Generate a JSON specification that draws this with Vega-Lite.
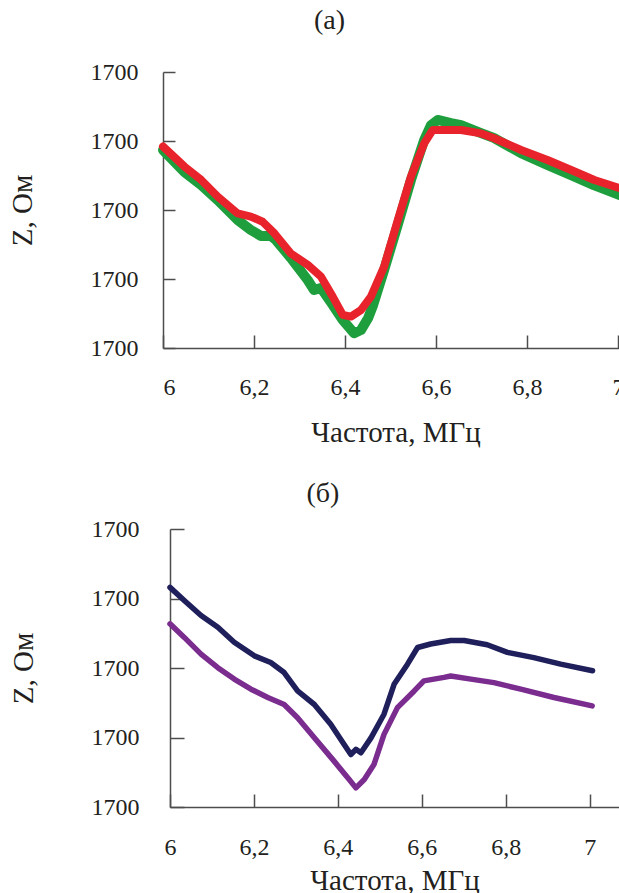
{
  "$schema": "https://vega.github.io/schema/vega-lite/v6.json",
  "padding": {"top": 7, "left": 8, "right": 0, "bottom": 0},
  "background": "white",
  "config": {
    "font": "Liberation Serif",
    "view": {"stroke": null},
    "axis": {
      "grid": false,
      "domainColor": "#4d4d4d",
      "domainWidth": 1.5,
      "tickColor": "#4d4d4d",
      "tickWidth": 1.5,
      "labelFont": "Liberation Serif",
      "titleFont": "Liberation Serif",
      "labelFontSize": 24,
      "titleFontSize": 29,
      "titleFontWeight": "normal",
      "labelColor": "#231f20",
      "titleColor": "#231f20"
    },
    "title": {"font": "Liberation Serif", "fontSize": 28, "fontWeight": "normal", "color": "#231f20"}
  },
  "datasets": {
    "a": [
      {"s": "green", "f": 6.000, "z": 1700.174},
      {"s": "green", "f": 6.047, "z": 1700.110},
      {"s": "green", "f": 6.084, "z": 1700.072},
      {"s": "green", "f": 6.120, "z": 1700.029},
      {"s": "green", "f": 6.164, "z": 1699.971},
      {"s": "green", "f": 6.193, "z": 1699.942},
      {"s": "green", "f": 6.215, "z": 1699.925},
      {"s": "green", "f": 6.237, "z": 1699.925},
      {"s": "green", "f": 6.248, "z": 1699.913},
      {"s": "green", "f": 6.281, "z": 1699.861},
      {"s": "green", "f": 6.318, "z": 1699.797},
      {"s": "green", "f": 6.332, "z": 1699.768},
      {"s": "green", "f": 6.347, "z": 1699.774},
      {"s": "green", "f": 6.373, "z": 1699.725},
      {"s": "green", "f": 6.395, "z": 1699.681},
      {"s": "green", "f": 6.420, "z": 1699.643},
      {"s": "green", "f": 6.435, "z": 1699.652},
      {"s": "green", "f": 6.451, "z": 1699.687},
      {"s": "green", "f": 6.462, "z": 1699.725},
      {"s": "green", "f": 6.486, "z": 1699.826},
      {"s": "green", "f": 6.516, "z": 1699.957},
      {"s": "green", "f": 6.545, "z": 1700.087},
      {"s": "green", "f": 6.574, "z": 1700.203},
      {"s": "green", "f": 6.589, "z": 1700.246},
      {"s": "green", "f": 6.604, "z": 1700.261},
      {"s": "green", "f": 6.633, "z": 1700.252},
      {"s": "green", "f": 6.655, "z": 1700.246},
      {"s": "green", "f": 6.699, "z": 1700.223},
      {"s": "green", "f": 6.727, "z": 1700.209},
      {"s": "green", "f": 6.787, "z": 1700.165},
      {"s": "green", "f": 6.846, "z": 1700.130},
      {"s": "green", "f": 6.897, "z": 1700.101},
      {"s": "green", "f": 6.947, "z": 1700.072},
      {"s": "green", "f": 7.004, "z": 1700.043},
      {"s": "red", "f": 6.000, "z": 1700.184},
      {"s": "red", "f": 6.047, "z": 1700.126},
      {"s": "red", "f": 6.084, "z": 1700.087},
      {"s": "red", "f": 6.120, "z": 1700.039},
      {"s": "red", "f": 6.164, "z": 1699.990},
      {"s": "red", "f": 6.193, "z": 1699.981},
      {"s": "red", "f": 6.219, "z": 1699.966},
      {"s": "red", "f": 6.245, "z": 1699.932},
      {"s": "red", "f": 6.281, "z": 1699.874},
      {"s": "red", "f": 6.318, "z": 1699.841},
      {"s": "red", "f": 6.347, "z": 1699.807},
      {"s": "red", "f": 6.373, "z": 1699.749},
      {"s": "red", "f": 6.395, "z": 1699.696},
      {"s": "red", "f": 6.413, "z": 1699.691},
      {"s": "red", "f": 6.435, "z": 1699.710},
      {"s": "red", "f": 6.457, "z": 1699.749},
      {"s": "red", "f": 6.486, "z": 1699.836},
      {"s": "red", "f": 6.516, "z": 1699.971},
      {"s": "red", "f": 6.545, "z": 1700.097},
      {"s": "red", "f": 6.574, "z": 1700.193},
      {"s": "red", "f": 6.593, "z": 1700.232},
      {"s": "red", "f": 6.655, "z": 1700.232},
      {"s": "red", "f": 6.699, "z": 1700.222},
      {"s": "red", "f": 6.728, "z": 1700.208},
      {"s": "red", "f": 6.787, "z": 1700.174},
      {"s": "red", "f": 6.845, "z": 1700.145},
      {"s": "red", "f": 6.897, "z": 1700.116},
      {"s": "red", "f": 6.948, "z": 1700.087},
      {"s": "red", "f": 7.004, "z": 1700.063}
    ],
    "b": [
      {"s": "navy", "f": 6.000, "z": 1700.232},
      {"s": "navy", "f": 6.034, "z": 1700.194},
      {"s": "navy", "f": 6.074, "z": 1700.151},
      {"s": "navy", "f": 6.114, "z": 1700.117},
      {"s": "navy", "f": 6.153, "z": 1700.074},
      {"s": "navy", "f": 6.201, "z": 1700.035},
      {"s": "navy", "f": 6.240, "z": 1700.016},
      {"s": "navy", "f": 6.272, "z": 1699.987},
      {"s": "navy", "f": 6.304, "z": 1699.934},
      {"s": "navy", "f": 6.344, "z": 1699.895},
      {"s": "navy", "f": 6.383, "z": 1699.838},
      {"s": "navy", "f": 6.415, "z": 1699.780},
      {"s": "navy", "f": 6.431, "z": 1699.751},
      {"s": "navy", "f": 6.443, "z": 1699.766},
      {"s": "navy", "f": 6.455, "z": 1699.756},
      {"s": "navy", "f": 6.479, "z": 1699.799},
      {"s": "navy", "f": 6.510, "z": 1699.867},
      {"s": "navy", "f": 6.534, "z": 1699.953},
      {"s": "navy", "f": 6.566, "z": 1700.011},
      {"s": "navy", "f": 6.590, "z": 1700.059},
      {"s": "navy", "f": 6.621, "z": 1700.069},
      {"s": "navy", "f": 6.669, "z": 1700.079},
      {"s": "navy", "f": 6.701, "z": 1700.079},
      {"s": "navy", "f": 6.756, "z": 1700.067},
      {"s": "navy", "f": 6.804, "z": 1700.045},
      {"s": "navy", "f": 6.867, "z": 1700.030},
      {"s": "navy", "f": 6.931, "z": 1700.011},
      {"s": "navy", "f": 7.007, "z": 1699.992},
      {"s": "purple", "f": 6.000, "z": 1700.127},
      {"s": "purple", "f": 6.034, "z": 1700.088},
      {"s": "purple", "f": 6.074, "z": 1700.040},
      {"s": "purple", "f": 6.114, "z": 1700.001},
      {"s": "purple", "f": 6.153, "z": 1699.968},
      {"s": "purple", "f": 6.193, "z": 1699.939},
      {"s": "purple", "f": 6.233, "z": 1699.915},
      {"s": "purple", "f": 6.272, "z": 1699.895},
      {"s": "purple", "f": 6.304, "z": 1699.857},
      {"s": "purple", "f": 6.344, "z": 1699.799},
      {"s": "purple", "f": 6.391, "z": 1699.732},
      {"s": "purple", "f": 6.427, "z": 1699.679},
      {"s": "purple", "f": 6.443, "z": 1699.655},
      {"s": "purple", "f": 6.463, "z": 1699.679},
      {"s": "purple", "f": 6.486, "z": 1699.722},
      {"s": "purple", "f": 6.510, "z": 1699.809},
      {"s": "purple", "f": 6.542, "z": 1699.886},
      {"s": "purple", "f": 6.582, "z": 1699.934},
      {"s": "purple", "f": 6.605, "z": 1699.963},
      {"s": "purple", "f": 6.653, "z": 1699.973},
      {"s": "purple", "f": 6.669, "z": 1699.977},
      {"s": "purple", "f": 6.717, "z": 1699.968},
      {"s": "purple", "f": 6.772, "z": 1699.958},
      {"s": "purple", "f": 6.836, "z": 1699.939},
      {"s": "purple", "f": 6.915, "z": 1699.915},
      {"s": "purple", "f": 7.006, "z": 1699.891}
    ]
  },
  "columns": 1,
  "align": "all",
  "spacing": 33,
  "concat": [
    {
      "width": 465,
      "height": 276,
      "title": {"text": "(a)", "dx": -66, "offset": 25},
      "data": {"name": "a"},
      "encoding": {
        "x": {
          "field": "f", "type": "quantitative",
          "scale": {"domain": [6, 7.022], "nice": false, "zero": false},
          "axis": {
            "title": "Частота, МГц",
            "values": [6, 6.2, 6.4, 6.6, 6.8, 7],
            "labelExpr": "replace(format(datum.value, '~g'), '.', ',')",
            "tickSize": -13,
            "labelPadding": 40,
            "titlePadding": 19,
            "labelFlush": true
          }
        },
        "y": {
          "field": "z", "type": "quantitative",
          "scale": {"domain": [1699.6, 1700.4], "nice": false, "zero": false},
          "axis": {
            "title": "Z, Ом",
            "values": [1699.6, 1699.8, 1700, 1700.2, 1700.4],
            "format": ".0f",
            "tickSize": -12,
            "labelPadding": 37,
            "titlePadding": 53
          }
        }
      },
      "layer": [
        {
          "transform": [{"filter": "datum.s === 'green'"}],
          "mark": {"type": "line", "color": "#1f9e3e", "strokeWidth": 10, "strokeJoin": "round", "strokeCap": "round"}
        },
        {
          "transform": [{"filter": "datum.s === 'red'"}],
          "mark": {"type": "line", "color": "#e8232b", "strokeWidth": 8, "strokeJoin": "round", "strokeCap": "round"}
        }
      ]
    },
    {
      "width": 456,
      "height": 278,
      "title": {"text": "(б)", "dx": -68, "offset": 9},
      "data": {"name": "b"},
      "encoding": {
        "x": {
          "field": "f", "type": "quantitative",
          "scale": {"domain": [6, 7.07], "nice": false, "zero": false, "range": [7, 456]},
          "axis": {
            "title": "Частота, МГц",
            "values": [6, 6.2, 6.4, 6.6, 6.8, 7],
            "labelExpr": "replace(format(datum.value, '~g'), '.', ',')",
            "tickSize": -13,
            "labelPadding": 41,
            "titlePadding": 7,
            "labelFlush": false
          }
        },
        "y": {
          "field": "z", "type": "quantitative",
          "scale": {"domain": [1699.6, 1700.4], "nice": false, "zero": false},
          "axis": {
            "title": "Z, Ом",
            "values": [1699.6, 1699.8, 1700, 1700.2, 1700.4],
            "format": ".0f",
            "offset": -7,
            "tickSize": -14,
            "labelPadding": 45,
            "titlePadding": 53
          }
        }
      },
      "layer": [
        {
          "transform": [{"filter": "datum.s === 'navy'"}],
          "mark": {"type": "line", "color": "#1f1f5c", "strokeWidth": 5.5, "strokeJoin": "round", "strokeCap": "round"}
        },
        {
          "transform": [{"filter": "datum.s === 'purple'"}],
          "mark": {"type": "line", "color": "#7b2c8f", "strokeWidth": 5.5, "strokeJoin": "round", "strokeCap": "round"}
        }
      ]
    }
  ]
}
